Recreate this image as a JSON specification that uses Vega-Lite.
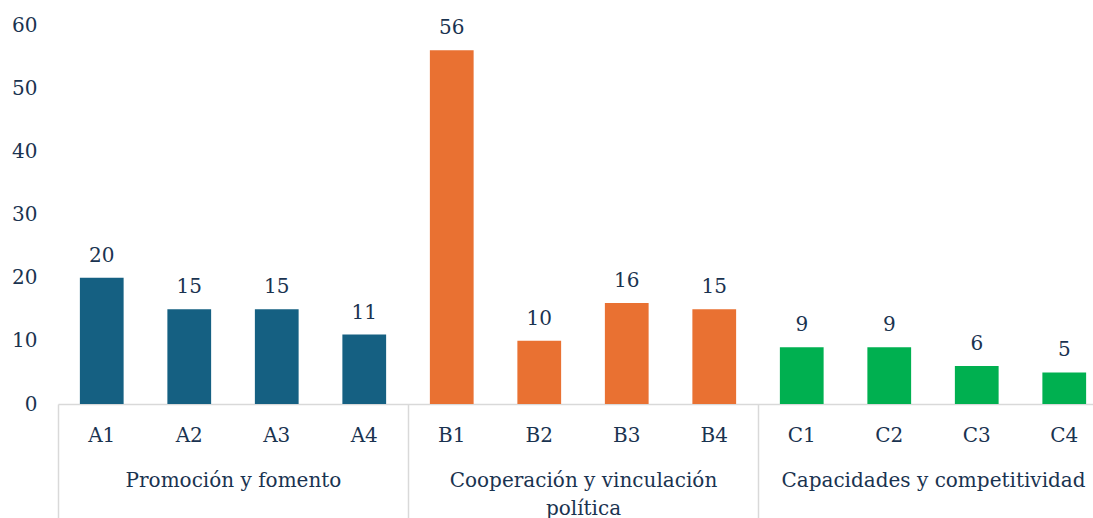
{
  "$schema": "https://vega.github.io/schema/vega-lite/v6.json",
  "width": 1035,
  "height": 379,
  "autosize": {"type": "none"},
  "padding": {"left": 58, "top": 25, "right": 0, "bottom": 114},
  "config": {"view": {"stroke": null}, "font": "DejaVu Serif", "background": "white"},
  "data": {"values": [
    {"cat": "A1", "group": "Promoción y fomento", "value": 20},
    {"cat": "A2", "group": "Promoción y fomento", "value": 15},
    {"cat": "A3", "group": "Promoción y fomento", "value": 15},
    {"cat": "A4", "group": "Promoción y fomento", "value": 11},
    {"cat": "B1", "group": "Cooperación y vinculación política", "value": 56},
    {"cat": "B2", "group": "Cooperación y vinculación política", "value": 10},
    {"cat": "B3", "group": "Cooperación y vinculación política", "value": 16},
    {"cat": "B4", "group": "Cooperación y vinculación política", "value": 15},
    {"cat": "C1", "group": "Capacidades y competitividad", "value": 9},
    {"cat": "C2", "group": "Capacidades y competitividad", "value": 9},
    {"cat": "C3", "group": "Capacidades y competitividad", "value": 6},
    {"cat": "C4", "group": "Capacidades y competitividad", "value": 5}
  ]},
  "layer": [
    {
      "encoding": {
        "x": {"field": "cat", "type": "nominal", "sort": null,
          "scale": {"range": [0, 1050], "paddingInner": 0.5, "paddingOuter": 0.25},
          "axis": {"orient": "bottom", "title": null, "labelAngle": 0, "ticks": false,
            "domain": true, "domainColor": "#D9D9D9", "domainWidth": 1.5,
            "labelPadding": 31, "labelBaseline": "middle", "labelFontSize": 20, "labelColor": "#1A3350"}},
        "y": {"field": "value", "type": "quantitative",
          "scale": {"domain": [0, 60], "nice": false},
          "axis": {"title": null, "values": [0, 10, 20, 30, 40, 50, 60], "grid": false, "domain": false, "ticks": false,
            "labelPadding": 21, "labelFontSize": 20, "labelColor": "#1A3350"}}
      },
      "layer": [
        {"mark": {"type": "bar"},
         "encoding": {"color": {"field": "group", "type": "nominal",
           "scale": {"domain": ["Promoción y fomento", "Cooperación y vinculación política", "Capacidades y competitividad"],
                     "range": ["#156082", "#E97132", "#00B050"]}, "legend": null}}},
        {"mark": {"type": "text", "baseline": "alphabetic", "dy": -16, "fontSize": 20, "color": "#1A3350"},
         "encoding": {"text": {"field": "value", "type": "quantitative"}}}
      ]
    },
    {
      "mark": {"type": "rule", "opacity": 0},
      "encoding": {
        "x": {"field": "group", "type": "nominal", "sort": null,
          "scale": {"range": [0, 1050], "paddingInner": 0, "paddingOuter": 0},
          "axis": {"orient": "bottom", "title": null, "labelAngle": 0, "domain": false,
            "ticks": true, "tickBand": "extent", "tickSize": 114, "tickColor": "#D9D9D9", "tickWidth": 1.5,
            "labelPadding": -48, "labelBaseline": "top", "labelFontSize": 20, "labelColor": "#1A3350",
            "labelLimit": 400, "labelLineHeight": 28,
            "labelExpr": "datum.value == 'Cooperación y vinculación política' ? ['Cooperación y vinculación', 'política'] : datum.label"}}
      }
    }
  ],
  "resolve": {"scale": {"x": "independent"}, "axis": {"x": "independent"}}
}
